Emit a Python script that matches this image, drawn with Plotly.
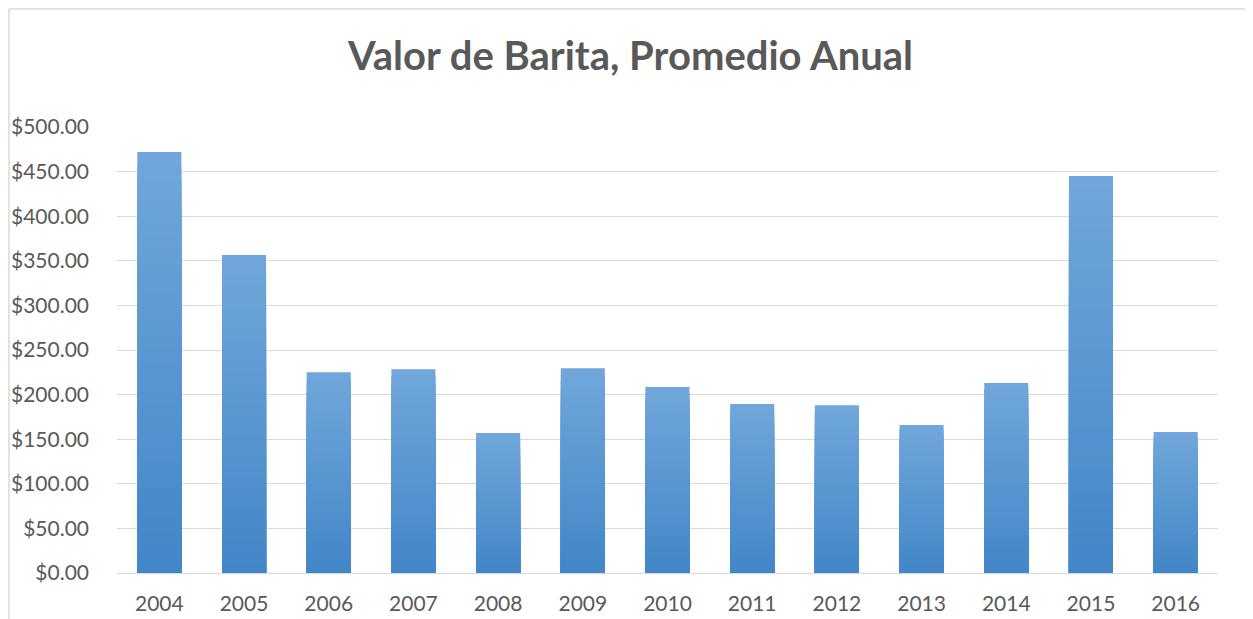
import plotly.graph_objects as go

years = ["2004", "2005", "2006", "2007", "2008", "2009", "2010",
         "2011", "2012", "2013", "2014", "2015", "2016"]
values = [472, 356.5, 225, 228.5, 157, 229.5, 208.5, 189.5, 188, 166, 213, 445, 158]
title_text = "Valor de Barita, Promedio Anual"

# page has an 8px body margin, so figure is sized to fit the window
OFF = 8
W, H = 1253 - OFF, 619 - OFF
L, R, T, B = 117 - OFF, 35, 127 - OFF, 46
pw, ph = W - L - R, H - T - B

fig = go.Figure()

# per-bar vertical gradient: light at top, darker at bottom
top_c = (0x70, 0xA6, 0xDB)
bot_c = (0x42, 0x87, 0xC8)
N = 30
for k in range(N):
    frac = 1 - k / N
    t = k / (N - 1)
    c = tuple(round(top_c[i] + (bot_c[i] - top_c[i]) * t) for i in range(3))
    fig.add_trace(go.Bar(
        x=years, y=[v * frac for v in values],
        marker=dict(color="rgb(%d,%d,%d)" % c, line=dict(width=0)),
        hoverinfo="skip" if k else None, showlegend=False,
    ))

frame_x = (1 - L) / pw
frame_y = 1 + (T - 1) / ph

fig.update_layout(
    width=W, height=H,
    margin=dict(l=L, r=R, t=T, b=B, autoexpand=False),
    paper_bgcolor="white", plot_bgcolor="white",
    barmode="overlay", bargap=0.48,
    title=dict(text="<b>" + title_text + "</b>", x=0.5, xanchor="center",
               y=1 - (56 - OFF) / H, yanchor="middle",
               font=dict(family="Lato", size=40, color="#595959")),
    font=dict(family="Lato", size=21, color="#595959"),
    xaxis=dict(showgrid=False, showline=False, ticks="", automargin=False,
               ticklabelstandoff=16,
               tickfont=dict(size=21, color="#595959")),
    yaxis=dict(range=[0, 500], dtick=50, tickformat="$,.2f", automargin=False,
               showgrid=True, gridcolor="#D9D9D9", gridwidth=1,
               zeroline=True, zerolinecolor="#D9D9D9", zerolinewidth=1,
               showline=False, ticks="", ticklabelstandoff=27,
               tickfont=dict(size=21, color="#595959")),
    shapes=[
        dict(type="line", xref="paper", yref="paper",
             x0=frame_x, x1=frame_x, y0=-0.5, y1=frame_y,
             line=dict(color="#D9D9D9", width=1.5)),
        dict(type="line", xref="paper", yref="paper",
             x0=frame_x, x1=1.2, y0=frame_y, y1=frame_y,
             line=dict(color="#D9D9D9", width=1.5)),
    ],
)

fig.write_html("out.html")
